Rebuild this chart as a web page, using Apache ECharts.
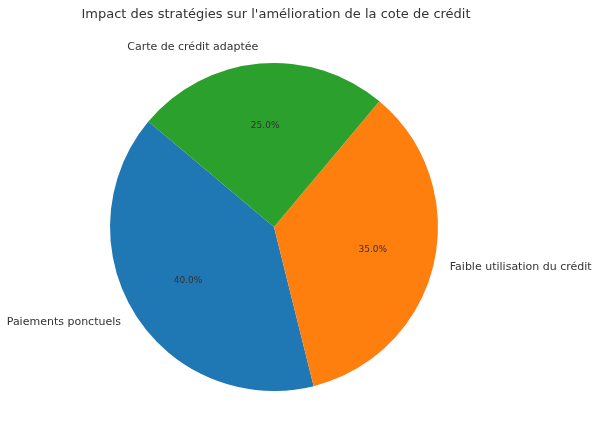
<!DOCTYPE html>
<html>
<head>
<meta charset="utf-8">
<script src="https://cdn.jsdelivr.net/npm/echarts@6/dist/echarts.min.js"></script>
<style>
html,body{margin:0;padding:0;background:#fff;}
#main{width:600px;height:439px;}
</style>
</head>
<body>
<div id="main"></div>
<script>
const titleText = "Impact des stratégies sur l'amélioration de la cote de crédit";
const categories = ["Paiements ponctuels", "Faible utilisation du crédit", "Carte de crédit adaptée"];
const values = [40, 35, 25];
const colors = ["#1f77b4", "#ff7f0e", "#2ca02c"];

const R = 164;
const center = [274, 227];
const font = "DejaVu Sans";

const data = categories.map((c, i) => ({ name: c, value: values[i], itemStyle: { color: colors[i] } }));
const dataPct = categories.map((c, i) => ({ name: c, value: values[i] }));

const chart = echarts.init(document.getElementById('main'), null, { renderer: 'canvas' });
chart.setOption({
  animation: false,
  backgroundColor: '#ffffff',
  title: {
    text: titleText,
    left: 271,
    textAlign: 'center',
    top: 3,
    textStyle: { fontFamily: font, fontSize: 13, fontWeight: 'normal', color: '#333' }
  },
  series: [
    {
      type: 'pie',
      center: center,
      radius: [0, R],
      startAngle: 140,
      clockwise: false,
      avoidLabelOverlap: false,
      silent: true,
      data: data,
      label: {
        show: true,
        position: 'outside',
        distanceToLabelLine: 0,
        fontFamily: font,
        fontSize: 11,
        color: '#333'
      },
      labelLine: { show: false, length: R * 0.1, length2: 0 },
      itemStyle: { borderWidth: 0 }
    },
    {
      type: 'pie',
      center: center,
      radius: [0, R * 1.2],
      startAngle: 140,
      clockwise: false,
      avoidLabelOverlap: false,
      silent: true,
      data: dataPct,
      itemStyle: { color: 'rgba(0,0,0,0)', borderWidth: 0 },
      label: {
        show: true,
        position: 'inside',
        fontFamily: font,
        fontSize: 9,
        color: '#333',
        formatter: p => p.value.toFixed(1) + '%'
      },
      labelLine: { show: false }
    }
  ]
});
</script>
</body>
</html>
